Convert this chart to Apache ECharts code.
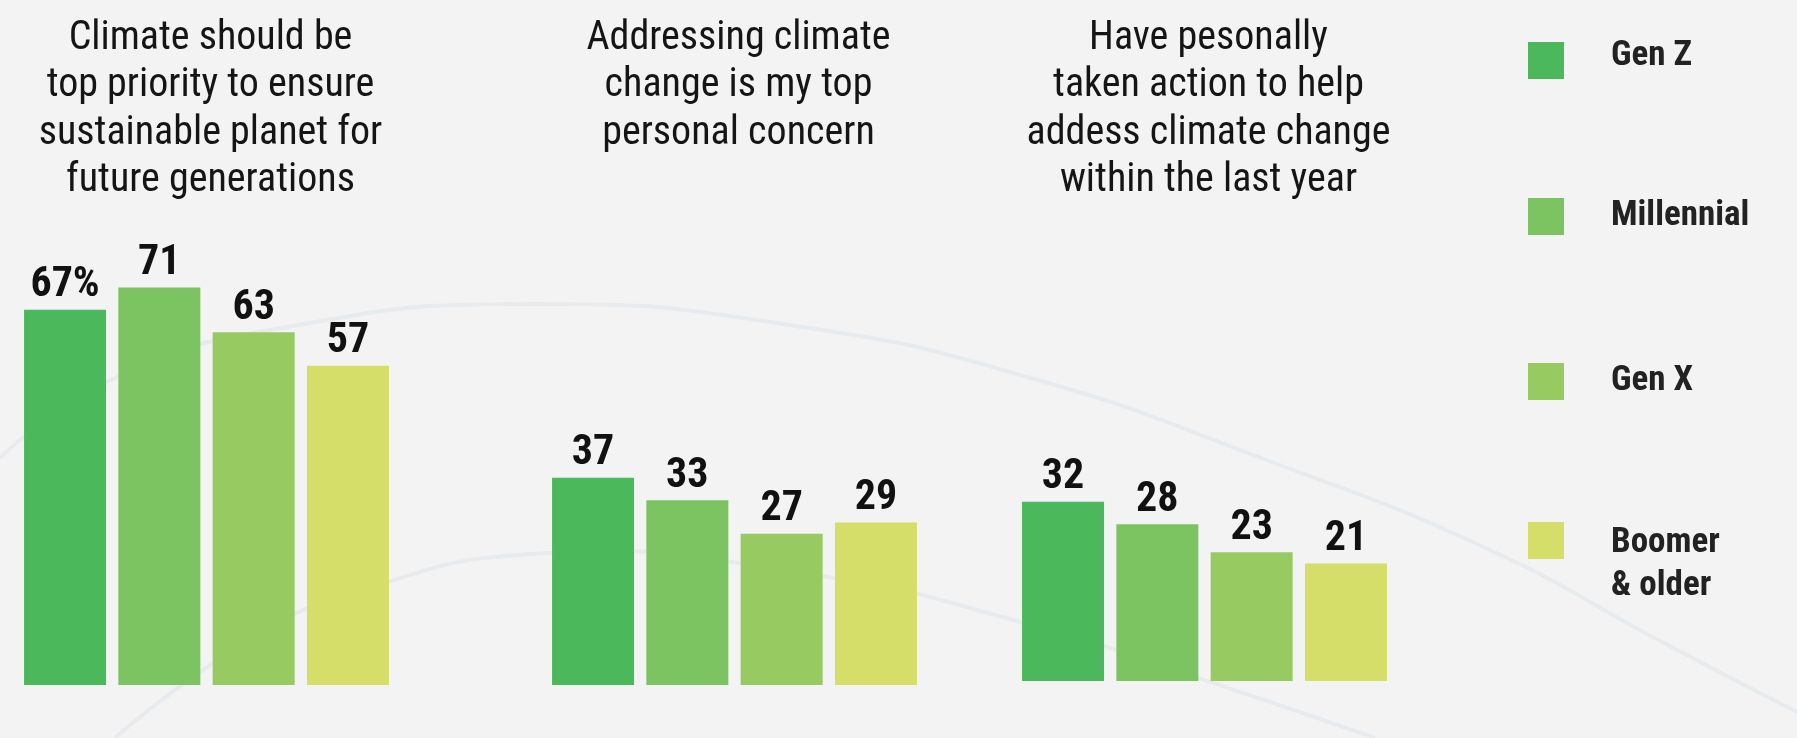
<!DOCTYPE html>
<html><head><meta charset="utf-8">
<script src="https://cdn.jsdelivr.net/npm/echarts@6/dist/echarts.min.js"></script>
<style>html,body{margin:0;padding:0;background:#f3f3f3}#c{width:1797px;height:738px}</style>
</head><body><div id="c"></div>
<script>
const questions = [
  'Climate should be\ntop priority to ensure\nsustainable planet for\nfuture generations',
  'Addressing climate\nchange is my top\npersonal concern',
  'Have pesonally\ntaken action to help\naddess climate change\nwithin the last year'
];
const generations = ['Gen Z', 'Millennial', 'Gen X', 'Boomer & older'];
const legendLabels = ['Gen Z', 'Millennial', 'Gen X', '{e| }\n{a|Boomer}\n{a|& older}'];
const genZ = [67, 37, 32];
const millennial = [71, 33, 28];
const genX = [63, 27, 23];
const boomer = [57, 29, 21];
const seriesValues = [genZ, millennial, genX, boomer];
const colors = ['#4bb85b', '#7cc362', '#98ca62', '#d4de68'];

const FONT = "'Roboto Condensed','Liberation Sans Narrow','DejaVu Sans Condensed','Roboto',sans-serif";
const centers = [206.5, 734.5, 1204.5];
const bottoms = [685, 685, 681];
const PX_PER_UNIT = 5.6;
const yMax = 100;

const grids = [], xAxes = [], yAxes = [], series = [], graphics = [];
questions.forEach((q, i) => {
  const h = PX_PER_UNIT * yMax;
  grids.push({left: centers[i] - 190, width: 380, top: bottoms[i] - h, height: h});
  xAxes.push({type: 'category', gridIndex: i, data: [q], show: false});
  yAxes.push({type: 'value', gridIndex: i, min: 0, max: yMax, show: false});
  graphics.push({
    type: 'text', x: centers[i] + 4, y: 15, z: 10,
    style: {text: q, textAlign: 'center', textVerticalAlign: 'top', font: '40px ' + FONT,
      lineHeight: 47.5, fill: '#151515'}
  });
  generations.forEach((g, k) => {
    series.push({
      type: 'bar', name: g, xAxisIndex: i, yAxisIndex: i,
      data: [seriesValues[k][i]], barWidth: 82, barGap: '15%',
      itemStyle: {color: colors[k]},
      label: {show: true, position: 'top', distance: 3, fontFamily: FONT, fontSize: 42,
        fontWeight: 'bold', color: '#111',
        formatter: p => p.value + (i === 0 && k === 0 ? '%' : '')}
    });
  });
});

// faint decorative background arcs
const bgLine = (pts) => ({type: 'polyline', z: -10, silent: true,
  shape: {points: pts, smooth: 0.5},
  style: {stroke: '#e7ebee', lineWidth: 4, fill: null}});
graphics.push(bgLine([[0,458],[115,378],[287,327],[539,304],[802,327],[1031,378],[1261,458],[1490,550],[1662,642],[1797,712]]));
graphics.push(bgLine([[115,738],[229,653],[344,596],[550,553],[802,573],[1031,625],[1261,699],[1375,738]]));

const swatchTops = [42, 198, 363, 522];
const textLift = [9, 0, 0, 0];
const LH = 43;
const TOP_GAP = 49;
const legendTextStyle = {fontFamily: FONT, fontSize: 35, fontWeight: 'bold', color: '#222', lineHeight: LH};
const legends = generations.map((g, k) => {
  const two = k === 3;
  const pad = [0, 0, textLift[k], 42];
  const boxH = two ? (2 * LH + TOP_GAP) : (LH + pad[2]);
  const above = Math.max(0, boxH / 2 - 18.5);
  return {
    data: [g], left: 1523, top: swatchTops[k] - 5 - above, orient: 'vertical',
    itemWidth: 36, itemHeight: 37, icon: 'rect',
    formatter: () => legendLabels[k],
    textStyle: Object.assign({}, legendTextStyle, {padding: pad,
      rich: {e: {fontSize: 10, lineHeight: TOP_GAP, height: TOP_GAP}, a: Object.assign({}, legendTextStyle)}})
  };
});

const chart = echarts.init(document.getElementById('c'));
chart.setOption({
  backgroundColor: '#f3f3f3',
  animation: false,
  grid: grids, xAxis: xAxes, yAxis: yAxes,
  legend: legends,
  graphic: graphics,
  series: series
});
</script></body></html>
